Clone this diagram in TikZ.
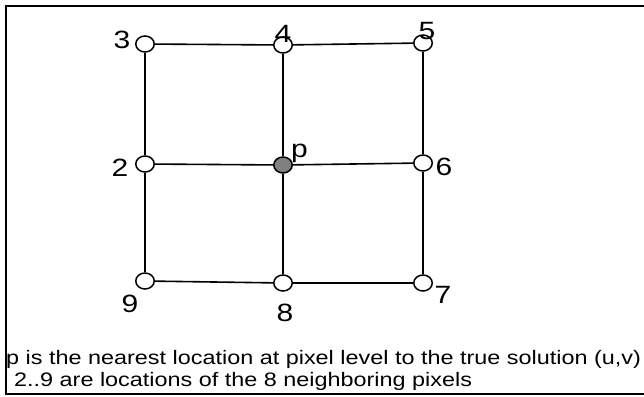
\documentclass[tikz,border=0pt]{standalone}
\usepackage{fontspec}
\setmainfont{Liberation Sans}[FakeStretch=1.2]
\usetikzlibrary{shapes.geometric}
\tikzset{
  pix/.style={ellipse,draw,line width=1.5pt,fill=white,minimum width=18.5pt,minimum height=16pt,inner sep=0pt},
  ctr/.style={pix,fill=gray},
  lbl/.style={inner sep=0pt,font=\fontsize{25}{30}\selectfont},
  captxt/.style={inner sep=0pt,anchor=base west,font=\fontsize{19.5}{23}\selectfont},
  gridline/.style={line width=1.6pt},
  frameline/.style={line width=2pt}
}
\begin{document}
\begin{tikzpicture}[x=1pt,y=-1pt]
\useasboundingbox (0,0) rectangle (644,396);
\coordinate (f1) at (646,6);
\coordinate (f2) at (6,6);
\coordinate (f3) at (6,394);
\coordinate (f4) at (646,394);
\draw[frameline] (f1) -- (f2) -- (f3) -- (f4);
% nodes
\node[pix] (n3) at (145,44) {};
\node[pix] (n4) at (283,45) {};
\node[pix] (n5) at (423,43) {};
\node[pix] (n2) at (145,164) {};
\node[ctr] (np) at (283,165) {};
\node[pix] (n6) at (423,163) {};
\node[pix] (n9) at (145,281) {};
\node[pix] (n8) at (283,283) {};
\node[pix] (n7) at (423,283) {};
% grid
\draw[gridline] (n3) -- (n4) -- (n5);
\draw[gridline] (n2) -- (np) -- (n6);
\draw[gridline] (n9) -- (n8) -- (n7);
\draw[gridline] (n3) -- (n2) -- (n9);
\draw[gridline] (n4) -- (np) -- (n8);
\draw[gridline] (n5) -- (n6) -- (n7);
% labels
\node[lbl] (l3) at (122,40) {3};
\node[lbl] (l4) at (283,34) {4};
\node[lbl] (l5) at (427,31) {5};
\node[lbl] (l2) at (120,168) {2};
\node[lbl,anchor=base west] (lp) at (291,157) {p};
\node[lbl] (l6) at (444,167) {6};
\node[lbl] (l9) at (130,304) {9};
\node[lbl] (l8) at (285,313) {8};
\node[lbl] (l7) at (443,295) {7};
% caption
\node[captxt] (c1) at (6,364) {p is the nearest location at pixel level to the true solution (u,v)};
\node[captxt] (c2) at (14,386.5) {2..9 are locations of the 8 neighboring pixels};
\end{tikzpicture}
\end{document}
